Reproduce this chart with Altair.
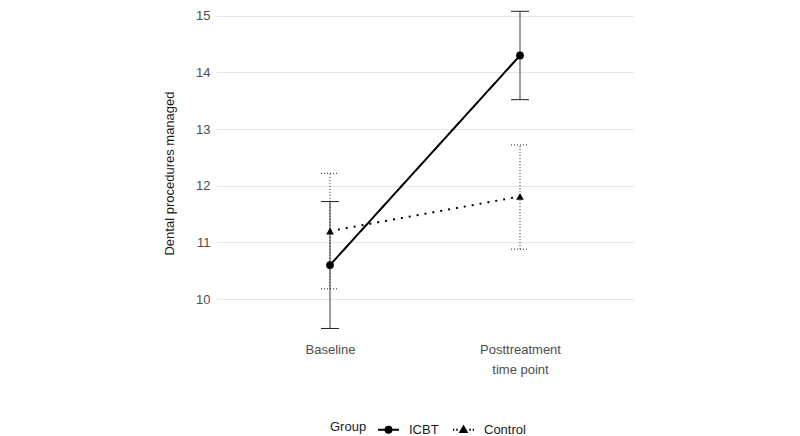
import altair as alt
import pandas as pd

groups = ["ICBT", "Control"]
timepoints = ["Baseline", "Posttreatment\ntime point"]
icbt_mean = [10.6, 14.3]
icbt_lo = [9.48, 13.52]
icbt_hi = [11.72, 15.08]
control_mean = [11.2, 11.81]
control_lo = [10.18, 10.88]
control_hi = [12.22, 12.72]
y_ticks = [10, 11, 12, 13, 14, 15]

rows = []
for g, m, lo, hi in [("ICBT", icbt_mean, icbt_lo, icbt_hi),
                     ("Control", control_mean, control_lo, control_hi)]:
    for t, mv, l, h in zip(timepoints, m, lo, hi):
        rows.append(dict(Group=g, Time=t, Mean=mv, Lo=l, Hi=h))
df = pd.DataFrame(rows)

FONT = "Liberation Sans"
is_ctrl = "datum.Group == 'Control'"

xenc = alt.X(
    "Time:N", sort=timepoints,
    scale=alt.Scale(type="point", padding=0.6),
    axis=alt.Axis(title=None, labelAngle=0, labelExpr="split(datum.label, '\\n')",
                  labelPadding=10, labelLineHeight=20, ticks=False, domain=False,
                  grid=False, labelFontSize=13, labelColor="#4d4d4d", labelFont=FONT),
)
yscale = alt.Scale(domain=[9.4, 15.05], nice=False, zero=False)
yaxis = alt.Axis(title="Dental procedures managed", values=y_ticks, format="d", grid=True,
                 gridColor="#e6e6e6", gridWidth=1, ticks=False, domain=False,
                 labelFontSize=13, labelColor="#4d4d4d", labelFont=FONT, labelPadding=6,
                 titleFontSize=13, titleFontWeight="normal", titleColor="#1a1a1a",
                 titleFont=FONT, titlePadding=19)

base = alt.Chart(df)

err = base.mark_rule(strokeWidth=1, color="#222222").encode(
    x=xenc,
    y=alt.Y("Lo:Q", scale=yscale, axis=yaxis),
    y2="Hi:Q",
    strokeDash=alt.condition(is_ctrl, alt.value([1, 2]), alt.value([1, 0])),
)
cap_hi = base.mark_rule(strokeWidth=1, color="#222222", xOffset=-9, x2Offset=9).encode(
    x=xenc, x2=alt.X2("Time"),
    y=alt.Y("Hi:Q", scale=yscale),
    strokeDash=alt.condition(is_ctrl, alt.value([1, 2]), alt.value([1, 0])),
)
cap_lo = base.mark_rule(strokeWidth=1, color="#222222", xOffset=-9, x2Offset=9).encode(
    x=xenc, x2=alt.X2("Time"),
    y=alt.Y("Lo:Q", scale=yscale),
    strokeDash=alt.condition(is_ctrl, alt.value([1, 2]), alt.value([1, 0])),
)
lines = base.mark_line(color="black", strokeWidth=2).encode(
    x=xenc,
    y=alt.Y("Mean:Q", scale=yscale),
    detail="Group:N",
    strokeDash=alt.condition(is_ctrl, alt.value([2, 6]), alt.value([1, 0])),
)
points = base.mark_point(filled=True, color="black", size=60, opacity=1).encode(
    x=xenc,
    y=alt.Y("Mean:Q", scale=yscale),
    shape=alt.Shape("Group:N", scale=alt.Scale(domain=groups, range=["circle", "triangle-up"]),
                    legend=None),
)

# legend glyphs (line + marker); the marker is filled by concentric strokes
icbt_path = ("M-1,0L1,0"
             "M0.28,0A0.28,0.28,0,1,1,-0.28,0A0.28,0.28,0,1,1,0.28,0Z"
             "M0.1,0A0.1,0.1,0,1,1,-0.1,0A0.1,0.1,0,1,1,0.1,0Z")
ctrl_path = ("M-1,0L-0.88,0M-0.7,0L-0.55,0M0.55,0L0.7,0M0.88,0L1,0"
             "M0,-0.3L0.3,0.22L-0.3,0.22Z"
             "M0,-0.1L0.12,0.12L-0.12,0.12Z"
             "M-0.02,0.05L0.02,0.05")

legend_layer = base.transform_filter("false").mark_point(
    filled=False, color="black", strokeWidth=2, opacity=1
).encode(
    x=xenc,
    y=alt.Y("Mean:Q", scale=yscale),
    shape=alt.Shape("Group:N", scale=alt.Scale(domain=groups, range=[icbt_path, ctrl_path]),
                    legend=alt.Legend(title="Group", orient="none", legendX=114, legendY=405,
                                      direction="horizontal", titleOrient="left",
                                      titleFontSize=13, titleFontWeight="normal",
                                      titleColor="#1a1a1a", titleFont=FONT,
                                      labelFontSize=13, labelColor="#1a1a1a", labelFont=FONT,
                                      symbolSize=441, symbolStrokeWidth=2,
                                      symbolFillColor="black", symbolStrokeColor="black",
                                      symbolOpacity=1, labelOffset=9, columnPadding=10,
                                      titlePadding=10)),
)

chart = alt.layer(err, cap_hi, cap_lo, lines, points, legend_layer).resolve_scale(
    shape="independent"
).properties(
    width=418, height=320,
    autosize=alt.AutoSizeParams(type="none"),
    padding={"left": 208, "top": 5, "right": 158, "bottom": 120},
).configure_view(stroke=None)

chart.save("out.html", embed_options={"renderer": "svg", "actions": False})
